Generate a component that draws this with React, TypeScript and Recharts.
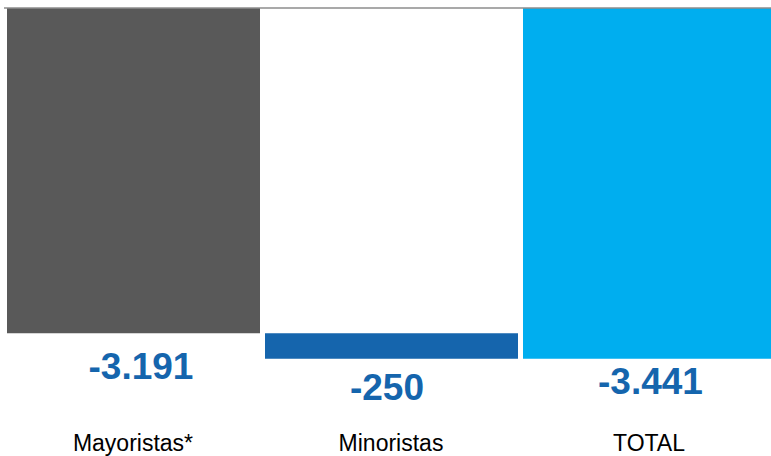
import React from "react";
import { BarChart, Bar, XAxis, YAxis, Cell, ReferenceLine, LabelList } from "recharts";

const categories = ["Mayoristas*", "Minoristas", "TOTAL"];
const changes = [-3191, -250, -3441];
const isTotal = [false, false, true];
const barColors = ["#595959", "#1565AD", "#00AEEF"];

// label nudges (style only)
const labelDx = [7.5, -4.5, 1];
const labelDy = [46, 41, 35];

const fmt = (v: number) => {
  const s = Math.abs(v).toString().replace(/\B(?=(\d{3})+(?!\d))/g, ".");
  return (v < 0 ? "-" : "") + s;
};

const buildData = () => {
  let running = 0;
  return categories.map((c, i) => {
    let start: number, end: number;
    if (isTotal[i]) {
      start = 0;
      end = changes[i];
      running = changes[i];
    } else {
      start = running;
      end = running + changes[i];
      running = end;
    }
    return { name: c, range: [start, end], value: changes[i], idx: i };
  });
};

const data = buildData();

const CatTick = (props: any) => {
  const { x, payload } = props;
  return (
    <text x={x} y={451} textAnchor="middle" fontFamily="Liberation Sans, Arial, sans-serif" fontSize={23} fill="#000">
      {payload.value}
    </text>
  );
};

const ValueLabel = (props: any) => {
  const { x, y, width, height, index } = props;
  const bottom = Math.max(y, y + height);
  return (
    <text
      x={x + width / 2 + labelDx[index]}
      y={bottom + labelDy[index]}
      textAnchor="middle"
      fontFamily="Liberation Sans, Arial, sans-serif"
      fontWeight="bold"
      fontSize={37}
      fill="#1565AD"
    >
      {fmt(changes[index])}
    </text>
  );
};

export default function App() {
  return (
    <div style={{ position: "absolute", left: 0, top: 0, width: 771, height: 456, overflow: "hidden", background: "#fff" }}>
      <BarChart
        width={779}
        height={456}
        data={data}
        margin={{ top: 8, left: 4, right: 1, bottom: 0 }}
      >
        <XAxis
          dataKey="name"
          axisLine={false}
          tickLine={false}
          height={26}
          tick={<CatTick />}
          interval={0}
        />
        <YAxis hide domain={[-4140, 0]} allowDataOverflow />
        <Bar dataKey="range" barSize={253} isAnimationActive={false}>
          {data.map((d, i) => (
            <Cell key={i} fill={barColors[i]} />
          ))}
          <LabelList dataKey="value" content={<ValueLabel />} />
        </Bar>
        <ReferenceLine y={0} stroke="#8C8C8C" strokeWidth={1.5} />
      </BarChart>
    </div>
  );
}
